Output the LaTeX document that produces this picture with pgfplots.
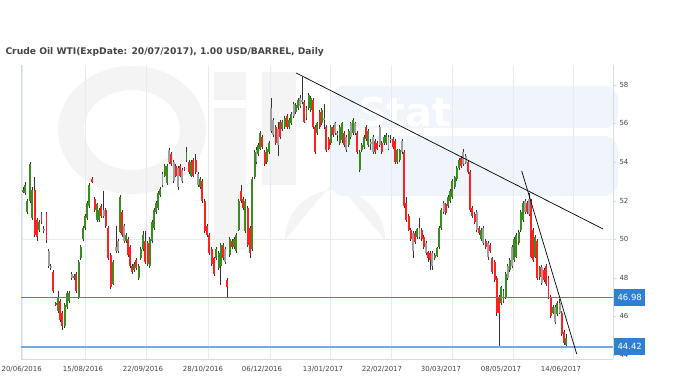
\documentclass[border=0pt]{standalone}
\usepackage{pgfplots}
\usepackage{pgfplotstable}
\pgfplotsset{compat=1.18}
\usepackage{fontspec}
\setmainfont{DejaVu Sans}
\definecolor{cgreen}{HTML}{3A8C1C}
\definecolor{cred}{HTML}{FF2020}
\definecolor{cgrey}{HTML}{A0A0A0}
\definecolor{cwick}{HTML}{333333}
\definecolor{gridc}{HTML}{E3ECF6}
\definecolor{axc}{HTML}{D0DCEA}
\definecolor{lvlone}{HTML}{4F7FB8}
\definecolor{lvltwo}{HTML}{72AAE2}
\definecolor{boxc}{HTML}{2F80D0}
\definecolor{wmgrey}{HTML}{F4F4F4}
\definecolor{wmblue}{HTML}{F0F5FC}
\definecolor{txt}{HTML}{444444}

\pgfplotstableread{
x o h l c t
23 52.45 52.7 52.4 52.55 1
25 52.4 52.95 52.3 52.8 1
27.3 51.4 52.1 51.3 52.0 1
30.3 52.0 54.0 51.9 53.9 1
32.3 51.1 52.7 51.0 52.55 1
34.7 52.55 53.2 50.1 50.22 -1
37 51.0 51.1 49.9 50.1 -1
39.3 50.5 51.0 50.4 50.9 1
41.5 51.3 51.4 50.8 50.9 -1
43.8 50.55 50.7 50.3 50.45 0
46.5 51.3 51.4 49.8 49.95 -1
48.8 49.4 49.5 48.5 48.6 0
50.8 48.6 48.7 48.4 48.5 0
53 48.3 48.4 47.2 47.3 -1
55.7 46.7 46.75 46.55 46.6 -1
58.2 46.3 47.3 46.2 47.0 1
60.3 46.8 46.9 45.7 45.8 -1
62.3 46.2 46.3 45.3 45.5 -1
64.7 45.5 46.7 45.4 46.6 1
67 46.5 47.3 46.4 47.2 1
69 46.8 47.3 46.7 47.2 1
71.8 48.2 48.3 47.9 48.0 0
74 48.0 48.2 47.9 48.1 1
76.3 48.2 48.3 47.2 47.3 -1
78.7 47.0 48.9 46.9 48.8 1
80.7 49.0 49.7 48.9 49.6 1
83 50.0 50.7 49.9 50.6 1
84.9 50.6 51.3 50.5 51.2 1
87 51.1 52.0 51.0 51.9 1
89 51.7 52.9 51.6 52.8 1
92 53.1 53.25 52.9 52.95 -1
94.7 52.1 52.2 51.4 51.5 -1
97 51.0 51.9 50.9 51.8 1
99 51.0 51.6 50.9 51.5 1
101.3 51.7 51.8 51.1 51.2 -1
103.6 51.2 52.5 51.1 51.5 0
105.8 51.5 51.6 50.6 50.7 -1
108 50.6 50.7 48.9 49.0 -1
110.6 49.2 49.3 47.4 47.5 -1
113 47.7 48.9 47.6 48.8 1
116.3 49.4 50.7 49.3 49.6 0
118.2 49.9 50.0 49.3 49.4 0
120 50.4 52.3 50.3 52.2 1
122.2 51.4 51.5 50.1 50.2 -1
124.3 50.7 50.8 49.8 49.9 0
126 49.9 50.3 49.8 50.2 1
128 50.0 50.1 49.1 49.2 -1
130.2 49.6 49.7 48.5 48.6 -1
132.2 48.6 48.7 48.2 48.3 -1
134.3 48.4 48.8 48.3 48.7 1
136.4 48.9 49.0 48.4 48.5 -1
138.7 48.0 48.7 47.9 48.6 1
140.8 49.0 49.6 48.9 49.5 1
143 49.5 50.4 49.4 50.2 1
145.3 49.9 50.4 48.7 48.8 -1
147.6 49.8 49.9 48.6 48.7 -1
149.8 48.6 50.1 48.5 50.0 1
152 49.9 51.0 49.8 50.9 1
154 50.6 51.6 50.5 51.5 1
156 51.4 52.0 51.3 51.9 1
158.2 51.6 52.5 51.5 52.4 1
160.4 52.3 52.7 52.2 52.6 1
162.5 53.4 53.5 52.7 52.8 0
164.7 53.3 53.9 53.2 53.8 1
167 52.9 53.9 52.8 53.8 1
169.1 54.0 54.75 53.9 54.6 0
171.3 54.4 54.5 53.8 53.9 -1
173.6 54.0 54.1 52.9 53.0 0
175.8 53.8 53.9 53.2 53.3 -1
178 53.7 53.8 52.55 52.7 0
180.1 53.8 53.9 53.2 53.3 -1
182.3 53.0 53.7 52.9 53.6 0
184.5 53.7 53.75 53.55 53.6 -1
186.5 54.1 54.8 54.0 54.5 1
189 54.0 54.1 53.4 53.5 -1
191.1 53.3 54.1 53.2 54.0 1
193.3 54.1 54.2 53.2 53.3 -1
195.6 54.1 54.4 53.4 53.5 -1
198 53.4 53.5 52.7 52.8 0
200.2 52.7 53.2 52.6 53.1 1
202.4 53.0 53.1 51.9 52.0 -1
204.7 52.0 52.1 50.3 50.4 -1
206.9 50.7 50.8 50.1 50.2 -1
209.2 50.2 50.3 49.2 49.3 -1
211.6 49.5 49.6 48.6 48.7 -1
213.9 49.0 49.1 48.1 48.2 -1
216.3 49.0 49.6 48.9 49.5 1
218.6 48.5 49.4 48.4 49.3 1
220.8 48.6 49.8 47.6 49.7 1
223 49.7 49.8 48.9 49.0 -1
225 49.5 49.6 48.7 48.8 0
227.3 47.9 48.0 47.0 47.5 -1
229.7 49.2 50.1 49.1 50.0 1
231.9 49.9 50.0 49.5 49.6 -1
234 49.6 50.1 49.5 50.0 1
236.2 49.4 50.3 49.3 50.2 1
238.6 50.5 52.1 50.4 52.0 1
241.1 52.5 52.8 51.9 52.0 -1
243.3 52.1 52.2 51.5 51.6 -1
245.4 50.4 52.1 50.3 52.0 1
247.7 51.6 51.7 49.6 49.7 -1
250 50.6 50.7 49.0 49.3 -1
252.3 49.5 53.2 49.4 53.1 1
254.6 53.2 54.6 53.1 54.5 1
256.5 54.0 54.8 53.9 54.6 0
258.3 54.4 55.0 54.3 54.9 1
260.2 54.7 55.6 54.6 55.5 1
262.4 55.3 55.4 54.7 54.8 -1
264.6 54.5 54.6 53.8 53.9 -1
266.8 54.0 54.8 53.9 54.7 1
269 54.5 55.1 54.4 55.0 1
271.3 55.6 57.3 55.5 56.8 0
273.4 56.2 56.3 55.3 55.4 0
275.7 55.8 55.9 54.9 55.0 -1
278 54.9 56.1 54.3 55.7 0
280.3 56.1 56.2 55.2 55.3 -1
282.4 55.7 56.2 55.6 56.1 1
284.6 55.8 56.4 55.7 56.3 1
286.9 56.4 56.5 55.7 55.8 -1
289.1 55.8 56.3 55.7 56.2 1
291.3 56.0 56.6 55.9 56.5 1
293.6 56.4 57.1 56.3 57.0 0
295.8 56.6 57.05 56.5 56.95 1
298 56.8 57.3 56.7 57.2 1
300.2 57.3 57.5 56.8 56.9 0
302.3 57.1 58.4 57.0 57.2 0
304.3 57.1 57.2 56.0 56.1 -1
306.5 56.3 56.9 56.2 56.8 1
308.7 56.8 57.6 56.7 57.5 1
310.8 56.7 57.4 56.6 57.3 1
313 57.2 57.3 55.7 55.8 -1
315.3 55.8 55.9 54.4 54.5 -1
317.4 55.5 56.1 55.4 56.0 1
319.6 56.6 56.7 55.7 55.8 -1
321.8 56.0 56.8 55.9 56.7 1
324 56.2 57.0 55.7 56.3 0
326.3 55.8 55.9 54.5 54.6 -1
328.6 55.2 55.3 54.6 54.7 -1
330.8 55.0 55.9 54.9 55.8 1
333 55.8 55.9 55.3 55.4 -1
335.2 55.5 56.1 55.4 56.0 0
337.4 55.5 55.6 55.1 55.45 0
339.6 55.0 55.9 54.9 55.8 1
341.9 55.15 56.1 55.0 56.0 1
344.1 55.5 55.6 54.8 54.9 -1
346.3 54.65 55.4 54.5 55.3 0
348.6 54.9 55.7 54.8 55.6 1
350.8 56.0 56.1 55.2 55.3 0
353 55.5 56.3 55.4 56.2 1
355.2 56.0 56.1 55.4 55.5 0
357.4 55.5 55.6 54.4 54.5 -1
359.7 53.6 54.6 53.5 54.5 1
361.8 54.6 55.0 54.5 54.9 1
364 54.8 55.4 54.7 55.3 1
366.2 55.8 55.9 55.1 55.2 -1
368.4 54.9 55.7 54.8 55.6 1
370.7 55.0 55.2 54.6 54.95 0
372.9 55.3 55.4 54.4 54.5 0
375.1 55.1 55.2 54.4 54.5 -1
377.3 55.0 55.1 54.6 54.7 -1
379.6 54.9 55.9 54.8 55.8 0
381.8 55.0 55.1 54.4 54.5 -1
384 55.0 55.4 54.9 55.3 1
386.2 55.0 55.5 54.9 55.4 1
388.5 55.3 55.4 54.6 54.7 0
390.7 55.2 55.4 55.0 55.15 0
392.9 55.2 55.3 54.7 54.8 -1
395.2 55.1 55.2 53.9 54.0 -1
397.4 54.0 54.7 53.9 54.6 1
399.6 54.1 54.7 54.0 54.6 1
401.9 54.5 55.2 54.4 55.1 0
404 54.5 54.6 51.6 51.7 -1
406.3 51.9 52.2 50.9 51.0 -1
408.6 51.2 51.3 50.4 50.5 -1
410.8 50.5 50.6 49.9 50.0 -1
413 50.3 50.4 49.0 49.4 0
415.2 50.3 50.4 49.75 49.85 -1
417.4 50.1 50.6 50.0 50.55 1
419.5 50.6 51.1 50.0 50.1 0
421.6 50.5 50.6 49.9 50.0 -1
423.8 50.1 50.2 49.5 49.6 -1
425.9 49.8 49.9 49.2 49.3 0
428.1 49.35 49.4 48.8 49.05 -1
430.3 49.3 49.4 48.4 48.9 -1
432.4 48.6 49.4 48.4 49.3 0
434.7 49.0 49.3 48.9 49.2 1
436.9 49.15 49.6 49.1 49.55 1
439.1 49.6 50.7 49.5 50.6 1
441.3 50.6 51.6 50.5 51.5 1
443.6 51.4 52.0 51.3 51.9 0
445.8 51.8 51.9 51.25 51.35 -1
448 51.7 52.3 51.6 52.2 1
450.1 52.0 52.6 51.9 52.5 1
452.3 52.2 53.1 52.1 53.0 1
454.6 52.7 53.3 52.6 53.2 1
456.8 53.1 53.8 53.0 53.7 1
459 53.7 54.2 53.6 54.1 1
461.2 54.2 54.3 53.7 53.8 -1
463.4 53.9 54.7 53.8 54.5 0
465.7 54.3 54.4 53.9 53.95 0
467.9 54.0 54.1 53.4 53.5 -1
470.1 53.5 53.6 51.4 51.5 -1
472.3 51.6 51.7 51.1 51.2 -1
474.6 51.3 51.4 50.8 50.9 -1
476.8 50.5 51.5 50.4 51.4 0
479 50.6 50.7 50.2 50.3 -1
481.2 50.0 50.6 49.9 50.5 1
483.4 50.6 50.7 49.7 49.8 0
485.6 49.9 50.0 49.5 49.6 -1
487.9 49.8 49.9 48.9 49.1 0
490.1 49.7 49.8 49.3 49.4 -1
492.3 49.0 49.1 48.2 48.3 -1
494.6 48.8 48.9 47.8 47.9 -1
496.8 48.0 48.1 46.0 46.2 -1
499 47.0 47.1 44.4 46.2 -1
501.3 46.7 47.6 46.6 47.5 1
503.5 46.8 47.4 46.7 47.3 1
505.6 47.0 48.3 46.9 48.2 1
507.7 48.0 48.7 47.9 48.6 0
509.8 48.4 49.0 48.3 48.9 1
512 48.6 49.7 48.5 49.6 0
514.2 48.9 50.1 48.8 50.0 1
516.4 49.1 50.3 49.0 50.2 1
518.6 49.8 50.5 49.7 50.4 1
520.8 50.5 51.5 50.4 51.4 1
523 51.0 52.0 50.9 51.9 1
525.2 52.0 52.1 51.3 51.4 0
527.3 51.9 52.0 51.3 51.4 -1
529.2 51.3 52.4 51.2 52.1 0
531 52.0 52.1 49.0 49.1 -1
533.1 50.5 50.6 48.8 48.9 -1
535.3 49.1 50.2 49.0 50.1 1
537.4 49.9 50.0 47.9 48.0 -1
539.6 48.55 48.6 47.9 48.05 -1
541.8 47.75 48.65 47.65 48.55 0
544 48.4 48.5 47.8 47.9 -1
546.2 48.6 48.7 47.6 47.7 -1
548.5 48.0 48.1 46.9 47.0 -1
550.7 47.0 47.1 45.9 46.0 -1
552.9 46.2 46.6 46.1 46.5 1
555.1 45.7 46.6 45.6 46.5 0
557.3 46.1 46.8 46.0 46.7 1
559.6 46.7 46.9 46.1 46.2 0
561.8 46.2 46.3 45.0 45.1 -1
564 45.2 45.3 44.5 44.6 -1
566.3 44.5 45.1 44.45 44.9 1
}\candles

\begin{document}
\begin{tikzpicture}
\useasboundingbox (0,0) rectangle (680bp,381bp);
% watermark and title in pixel coordinates
\begin{scope}[x=1bp,y=-1bp,yshift=381bp]
  \fill[wmgrey,even odd rule] (132,130) ellipse [x radius=74, y radius=64] (132,130) ellipse [x radius=48, y radius=40];
  \fill[wmgrey] (214,72) rectangle (246,100);
  \fill[wmgrey] (214,108) rectangle (246,250);
  \fill[wmgrey] (262,72) rectangle (296,185);
  \fill[wmgrey] (335,180) -- (385,240) arc[start angle=0,end angle=-180,radius=50] -- cycle;
  \fill[white] (335,262) circle[radius=18];
  \fill[wmblue,rounded corners=14] (330,86) rectangle (618,128);
  \fill[wmblue,rounded corners=14] (330,136) rectangle (618,196);
  \node[text=white,font=\fontsize{40}{40}\selectfont\bfseries] at (405,112) {Stat};
  \node[anchor=west,text=txt,font=\fontsize{9.2}{11}\selectfont\bfseries] at (2,52) {Crude Oil WTI(ExpDate: 20/07/2017), 1.00 USD/BARREL, Daily};
\end{scope}
\begin{axis}[
  at={(21.5bp,22bp)}, anchor=south west,
  scale only axis, width=591.5bp, height=294bp,
  xmin=21.5, xmax=613, ymin=43.79, ymax=59.03,
  axis x line*=bottom, axis y line*=right,
  axis line style={draw=axc},
  xtick={22.5,85,146.6,208,270,330,391,452,513,573},
  xticklabels={},
  xmajorgrids, major grid style={draw=gridc},
  xtick style={draw=none},
  extra x ticks={21.7,83,143,203,262,323,382,441,501,561},
  extra x tick labels={20/06/2016,15/08/2016,22/09/2016,28/10/2016,06/12/2016,13/01/2017,22/02/2017,30/03/2017,08/05/2017,14/06/2017},
  extra x tick style={grid=none},
  ytick={44,46,...,58},
  ytick style={draw=axc},
  tick align=outside, major tick length=3bp,
  /pgf/number format/assume math mode=true,
  tick label style={font=\fontsize{7}{8}\selectfont, text=txt},
  xticklabel style={yshift=-1bp},
  clip=false,
]
\draw[gridc] (axis cs:21.5,50) -- (axis cs:613,50);
\draw[axc] (rel axis cs:0,0) -- (rel axis cs:0,1);
% wicks
\addplot[draw=none, no markers, error bars/.cd, y dir=both, y explicit, error mark=none,
  error bar style={line width=0.65bp, draw=cwick}]
  table[x=x, y expr={(\thisrow{h}+\thisrow{l})/2}, y error expr={(\thisrow{h}-\thisrow{l})/2}] {\candles};
% up bodies
\addplot[draw=none, no markers, restrict expr to domain={\thisrow{t}}{0.5:1.5}, unbounded coords=discard,
  error bars/.cd, y dir=both, y explicit, error mark=none,
  error bar style={line width=1.9bp, draw=cgreen}]
  table[x=x, y expr={(\thisrow{o}+\thisrow{c})/2}, y error expr={max(abs(\thisrow{o}-\thisrow{c})/2,0.04)}] {\candles};
% down bodies
\addplot[draw=none, no markers, restrict expr to domain={\thisrow{t}}{-1.5:-0.5}, unbounded coords=discard,
  error bars/.cd, y dir=both, y explicit, error mark=none,
  error bar style={line width=1.9bp, draw=cred}]
  table[x=x, y expr={(\thisrow{o}+\thisrow{c})/2}, y error expr={max(abs(\thisrow{o}-\thisrow{c})/2,0.04)}] {\candles};
% grey bodies
\addplot[draw=none, no markers, restrict expr to domain={\thisrow{t}}{-0.5:0.5}, unbounded coords=discard,
  error bars/.cd, y dir=both, y explicit, error mark=none,
  error bar style={line width=1.9bp, draw=cgrey}]
  table[x=x, y expr={(\thisrow{o}+\thisrow{c})/2}, y error expr={max(abs(\thisrow{o}-\thisrow{c})/2,0.04)}] {\candles};
% levels
\addplot[lvlone, line width=0.8bp, mark=none] coordinates {(21.5,46.98) (613,46.98)};
\addplot[lvltwo, line width=1.6bp, mark=none] coordinates {(21.5,44.42) (613,44.42)};
% trend lines
\addplot[black, line width=0.7bp, mark=none] coordinates {(296,58.62) (603,50.53)};
\addplot[black, line width=0.7bp, mark=none] coordinates {(521.7,53.54) (576.7,44.05)};
\coordinate (b1) at (axis cs:613,46.98);
\coordinate (b2) at (axis cs:613,44.42);
\end{axis}
\node[fill=boxc, text=white, anchor=west, minimum width=31bp, minimum height=17bp, inner sep=0pt, font=\fontsize{8.5}{10}\selectfont] at ([xshift=1bp]b1) {46.98};
\node[fill=boxc, text=white, anchor=west, minimum width=31bp, minimum height=17bp, inner sep=0pt, font=\fontsize{8.5}{10}\selectfont] at ([xshift=1bp]b2) {44.42};
\end{tikzpicture}
\end{document}
